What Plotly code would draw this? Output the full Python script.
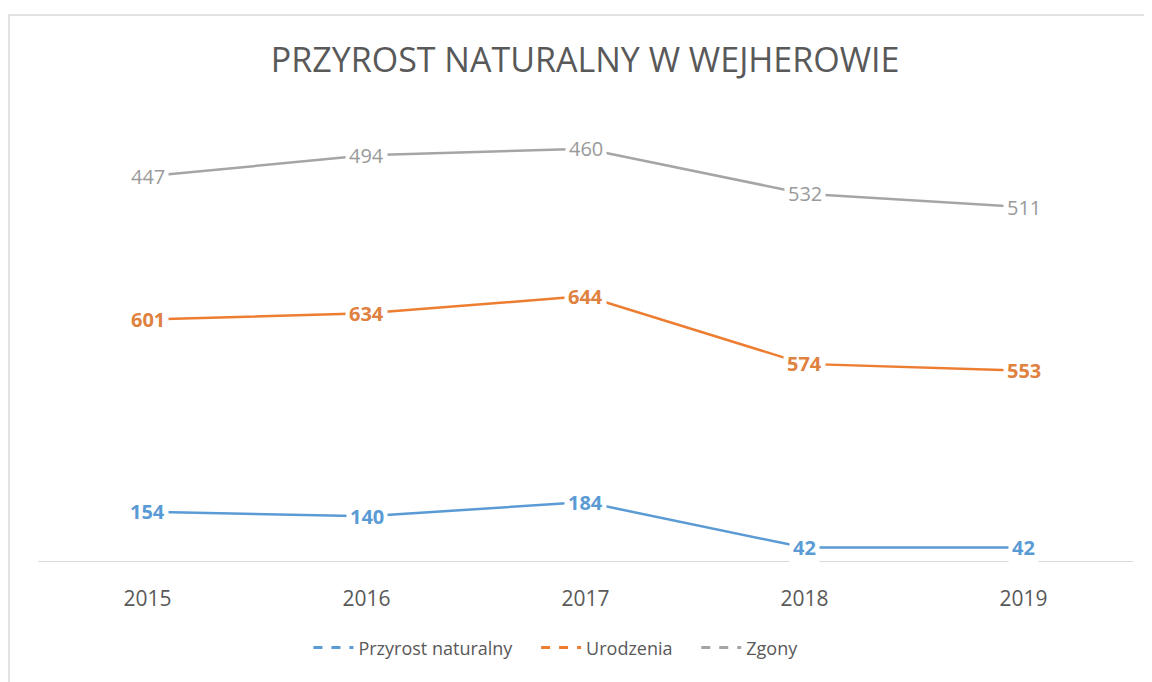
import numpy as np
import plotly.graph_objects as go

years = ["2015", "2016", "2017", "2018", "2019"]
przyrost = [154, 140, 184, 42, 42]
urodzenia = [601, 634, 644, 574, 553]
zgony = [447, 494, 460, 532, 511]

series = [
    ("Przyrost naturalny", przyrost, "#5b9bd5", "#5b9bd5", True),
    ("Urodzenia", urodzenia, "#ed7d31", "#e0823f", True),
    ("Zgony", zgony, "#a5a5a5", "#9a9a9a", False),
]

FONT = "Open Sans, sans-serif"
fig = go.Figure()
cum = np.zeros(len(years))
annotations = []
for name, vals, color, lcolor, bold in series:
    fig.add_trace(go.Scatter(
        x=years, y=vals, name=name, mode="lines", stackgroup="s", fill="none",
        line=dict(color=color, width=2.5), hoverinfo="skip", showlegend=False,
    ))
    cum = cum + np.array(vals)
    for i, (yi, v) in enumerate(zip(cum, vals)):
        annotations.append(dict(
            x=i, y=float(yi), xref="x", yref="y", showarrow=False,
            text=f"<b>{v}</b>" if bold else str(v),
            font=dict(family=FONT, size=20, color=lcolor),
            bgcolor="white", borderpad=3,
        ))

# legend entries (dashed symbols as in the reference)
for k, (name, vals, color, lcolor, bold) in enumerate(series):
    pad = "\u00a0\u00a0\u00a0\u00a0" if k < len(series) - 1 else ""
    fig.add_trace(go.Scatter(
        x=[None], y=[None], name=name + pad, mode="lines",
        line=dict(color=color, width=3, dash="dash"), showlegend=True,
    ))

fig.update_layout(
    width=1152, height=682,
    margin=dict(l=30, r=27, t=105, b=129, autoexpand=False),
    paper_bgcolor="white", plot_bgcolor="white",
    title=dict(text="PRZYROST NATURALNY W WEJHEROWIE", x=0.501, xanchor="center",
               y=0.924, yanchor="middle",
               font=dict(family=FONT, size=34, color="#595959")),
    xaxis=dict(type="category", range=[-0.5, 4.5], showgrid=False, showline=True,
               linecolor="#d9d9d9", linewidth=1,
               ticks="", tickfont=dict(family=FONT, size=21, color="#595959"),
               ticklabelstandoff=19, zeroline=False),
    yaxis=dict(range=[0, 1400], visible=False, showgrid=False, zeroline=False),
    legend=dict(orientation="h", x=0.473, xanchor="center", y=-0.194, yanchor="middle",
                traceorder="normal", itemwidth=40,
                font=dict(family=FONT, size=18, color="#595959")),
    annotations=annotations,
    shapes=[dict(type="rect", xref="paper", yref="paper", x0=-0.0265, x1=1.2,
                 y0=-0.5, y1=1.219, line=dict(color="#d9d9d9", width=1.5),
                 fillcolor="rgba(0,0,0,0)", layer="below")],
)

fig.write_html("out.html")
